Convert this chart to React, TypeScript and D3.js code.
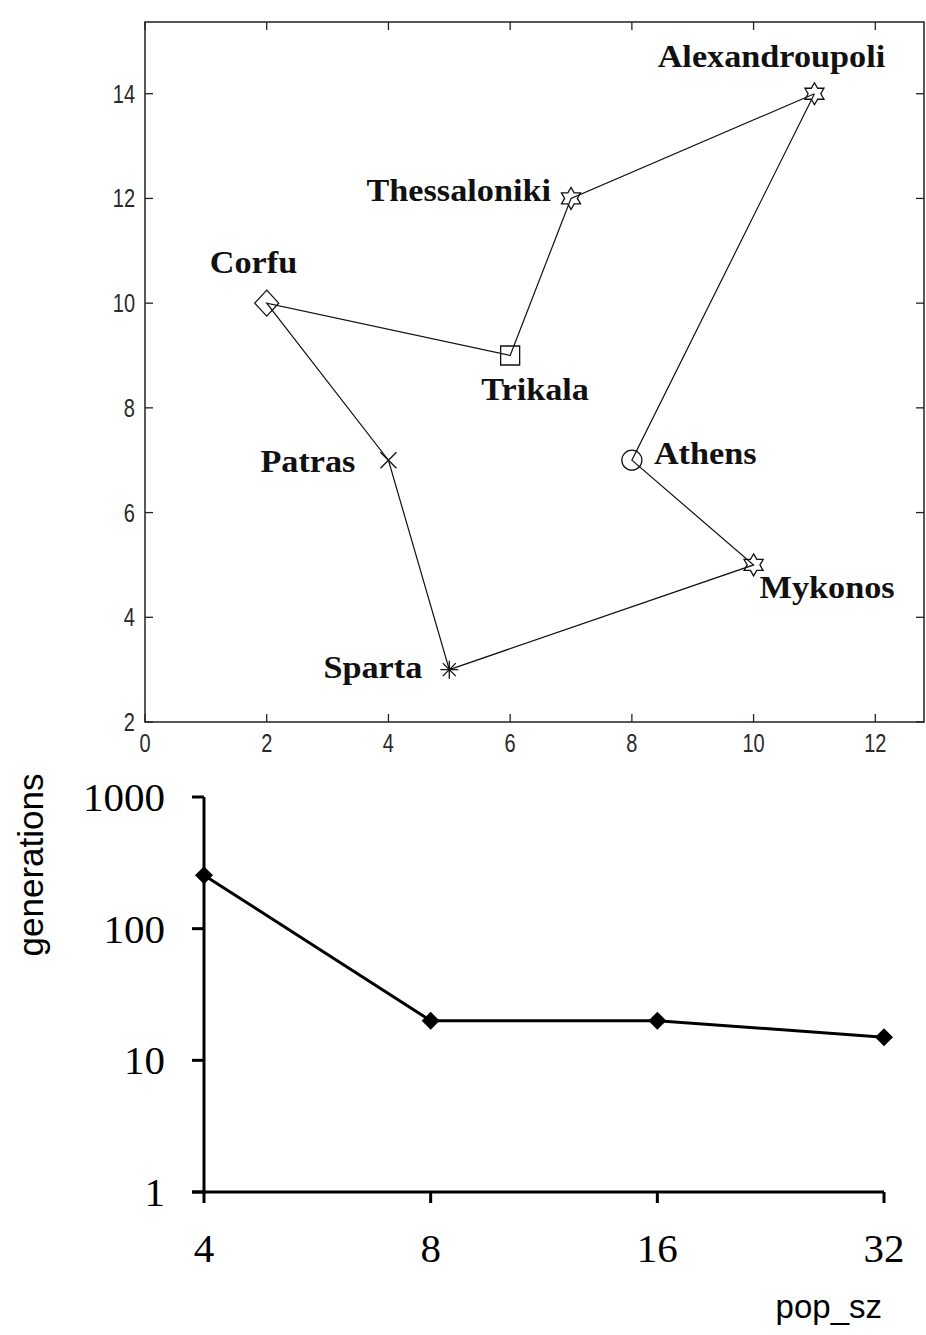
import React from 'react';
import * as d3 from 'd3';

// top chart: the tour through the cities
const cities = ['Alexandroupoli', 'Thessaloniki', 'Trikala', 'Corfu', 'Patras', 'Sparta', 'Mykonos', 'Athens'];
const cityX = [11, 7, 6, 2, 4, 5, 10, 8];
const cityY = [14, 12, 9, 10, 7, 3, 5, 7];
const cityMarkers = ['hexagram', 'hexagram', 'square', 'diamond', 'x', 'asterisk', 'hexagram', 'circle'];
const tourOrder = [0, 1, 2, 3, 4, 5, 6, 7, 0];
const mapXTicks = [0, 2, 4, 6, 8, 10, 12];
const mapYTicks = [2, 4, 6, 8, 10, 12, 14];

// bottom chart: generations vs population size
const popSizes = [4, 8, 16, 32];
const generations = [255, 20, 20, 15];
const genTicks = [1, 10, 100, 1000];

// where each city name sits relative to its marker
const labelPlace: Record<string, { anchor: string; dx: number; dy: number }> = {
  Alexandroupoli: { anchor: 'middle', dx: -43, dy: -27 },
  Thessaloniki: { anchor: 'end', dx: -20, dy: 3 },
  Trikala: { anchor: 'start', dx: -29, dy: 44 },
  Corfu: { anchor: 'start', dx: -57, dy: -30 },
  Patras: { anchor: 'end', dx: -33, dy: 12 },
  Sparta: { anchor: 'end', dx: -27, dy: 8 },
  Mykonos: { anchor: 'start', dx: 6, dy: 33 },
  Athens: { anchor: 'start', dx: 22, dy: 4 },
};

const markerPath = (type: string) => {
  if (type === 'hexagram') {
    const pts: [number, number][] = [];
    for (let i = 0; i < 12; i++) {
      const r = i % 2 === 0 ? 11 : 11 / Math.sqrt(3);
      const a = -Math.PI / 2 + (i * Math.PI) / 6;
      pts.push([r * Math.cos(a), r * Math.sin(a)]);
    }
    return 'M' + pts.map(p => p.join(',')).join('L') + 'Z';
  }
  if (type === 'square') return 'M-9.5,-9.5H9.5V9.5H-9.5Z';
  if (type === 'diamond') return 'M0,-13L12,0L0,13L-12,0Z';
  if (type === 'x') return 'M-8,-8L8,8M-8,8L8,-8';
  if (type === 'asterisk') return 'M-9,0H9M0,-9V9M-6.5,-6.5L6.5,6.5M-6.5,6.5L6.5,-6.5';
  return d3.arc()({ innerRadius: 0, outerRadius: 10, startAngle: 0, endAngle: 2 * Math.PI }) as string;
};

const TourMap = () => {
  const left = 145, right = 924, top = 22, bottom = 722;
  const x = d3.scaleLinear().domain([0, 12.8]).range([left, right]);
  const y = d3.scaleLinear().domain([2, 15.37]).range([bottom, top]);
  const tour = d3.line<number>().x(i => x(cityX[i])).y(i => y(cityY[i]));
  const tickFont = { fontFamily: '"Liberation Sans", Arial, sans-serif', fontSize: 25, fill: '#2a2a2a' };

  return (
    <g>
      <rect x={left} y={top} width={right - left} height={bottom - top} fill="#fff" stroke="#222" strokeWidth={1.5} />
      {mapXTicks.map(t => (
        <g key={'x' + t}>
          <line x1={x(t)} x2={x(t)} y1={bottom} y2={bottom - 8} stroke="#222" strokeWidth={1.3} />
          <line x1={x(t)} x2={x(t)} y1={top} y2={top + 8} stroke="#222" strokeWidth={1.3} />
          <text transform={`translate(${x(t)},${bottom + 30}) scale(0.8,1)`} textAnchor="middle" {...tickFont}>{t}</text>
        </g>
      ))}
      {mapYTicks.map(t => (
        <g key={'y' + t}>
          <line x1={left} x2={left + 8} y1={y(t)} y2={y(t)} stroke="#222" strokeWidth={1.3} />
          <line x1={right} x2={right - 8} y1={y(t)} y2={y(t)} stroke="#222" strokeWidth={1.3} />
          <text transform={`translate(${left - 10},${y(t) + 9}) scale(0.8,1)`} textAnchor="end" {...tickFont}>{t}</text>
        </g>
      ))}
      <path d={tour(tourOrder) as string} fill="none" stroke="#111" strokeWidth={1.2} />
      {cities.map((c, i) => (
        <path key={c} d={markerPath(cityMarkers[i])} transform={`translate(${x(cityX[i])},${y(cityY[i])})`}
          fill="none" stroke="#111" strokeWidth={1.3} />
      ))}
      {cities.map((c, i) => {
        const p = labelPlace[c];
        return (
          <text key={'l' + c} transform={`translate(${x(cityX[i]) + p.dx},${y(cityY[i]) + p.dy}) scale(1.07,1)`}
            textAnchor={p.anchor} fontFamily='"Liberation Serif", "Times New Roman", serif'
            fontWeight="bold" fontSize={32} fill="#111">{c}</text>
        );
      })}
    </g>
  );
};

const GenChart = () => {
  const left = 204, right = 884, top = 797, bottom = 1192;
  const x = d3.scaleLog().base(2).domain([4, 32]).range([left, right]);
  const y = d3.scaleLog().domain([1, 1000]).range([bottom, top]);
  const line = d3.line<number>().x((_, i) => x(popSizes[i])).y(v => y(v));
  const serif = '"Liberation Serif", "Times New Roman", serif';
  const sans = '"Liberation Sans", Arial, sans-serif';

  return (
    <g>
      <line x1={left} x2={left} y1={top} y2={bottom} stroke="#000" strokeWidth={3} />
      <line x1={left - 12} x2={right} y1={bottom} y2={bottom} stroke="#000" strokeWidth={3} />
      {genTicks.map(t => (
        <g key={'g' + t}>
          <line x1={left - 12} x2={left} y1={y(t)} y2={y(t)} stroke="#000" strokeWidth={3} />
          <text x={left - 39} y={y(t) + 14} textAnchor="end" fontFamily={serif} fontSize={41} fill="#000">{t}</text>
        </g>
      ))}
      {popSizes.map(p => (
        <g key={'p' + p}>
          <line x1={x(p)} x2={x(p)} y1={bottom} y2={bottom + 11} stroke="#000" strokeWidth={3} />
          <text x={x(p)} y={bottom + 70} textAnchor="middle" fontFamily={serif} fontSize={41} fill="#000">{p}</text>
        </g>
      ))}
      <path d={line(generations) as string} fill="none" stroke="#000" strokeWidth={3} />
      {generations.map((v, i) => (
        <path key={'m' + i} d="M0,-9L9,0L0,9L-9,0Z" transform={`translate(${x(popSizes[i])},${y(v)})`} fill="#000" />
      ))}
      <text x={right - 2} y={1318} textAnchor="end" fontFamily={sans} fontSize={33} fill="#000">pop_sz</text>
      <text transform="translate(43,865) rotate(-90)" textAnchor="middle" fontFamily={sans} fontSize={35} fill="#000">generations</text>
    </g>
  );
};

export default function App() {
  return (
    <svg width={926} height={1335} style={{ position: 'absolute', left: 0, top: 0, background: '#fff' }}>
      <rect width={926} height={1335} fill="#fff" />
      <TourMap />
      <GenChart />
    </svg>
  );
}
